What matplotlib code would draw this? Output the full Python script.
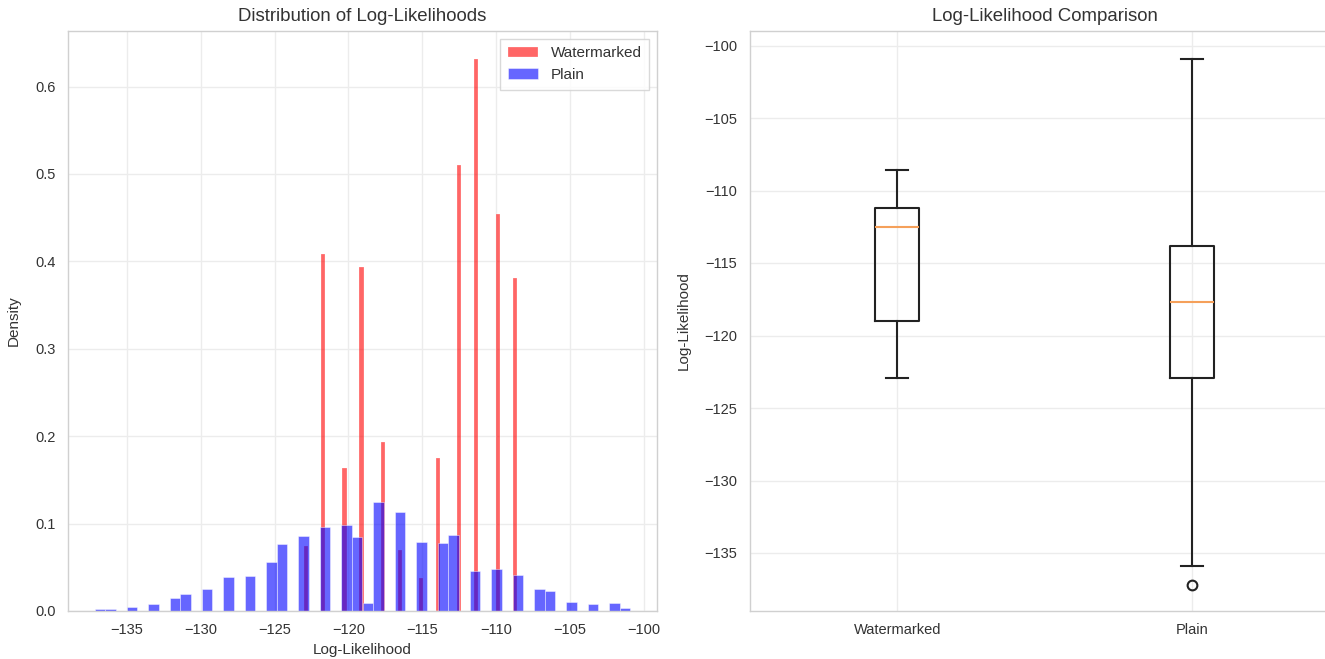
import numpy as np
import matplotlib
matplotlib.use("Agg")
import matplotlib.pyplot as plt

plt.rcParams['font.family'] = ['Liberation Sans', 'DejaVu Sans']

# histogram of plain log-likelihoods (density, 50 bins)
plain_range = (-137.2, -100.9)
plain_density = [
    0.0028, 0.0028, 0.0, 0.0050, 0.0, 0.0077, 0.0, 0.0145, 0.0195, 0.0,
    0.0256, 0.0, 0.0393, 0.0, 0.0405, 0.0, 0.0558, 0.0765, 0.0, 0.0857,
    0.0, 0.0956, 0.0, 0.0986, 0.0845, 0.0088, 0.125, 0.0, 0.113, 0.0,
    0.0788, 0.0, 0.0776, 0.0875, 0.0, 0.0462, 0.0, 0.0478, 0.0, 0.0409,
    0.0, 0.0249, 0.0233, 0.0, 0.0103, 0.0, 0.0077, 0.0, 0.0088, 0.0034,
]

# histogram of watermarked log-likelihoods (density, 50 bins)
wm_range = (-123.0, -108.6)
wm_density = [
    0.074, 0.0, 0.0, 0.0, 0.408, 0.0, 0.0, 0.0, 0.0, 0.164,
    0.0, 0.0, 0.0, 0.394, 0.0, 0.0, 0.0, 0.0, 0.193, 0.0,
    0.0, 0.0, 0.070, 0.0, 0.0, 0.0, 0.0, 0.038, 0.0, 0.0,
    0.0, 0.175, 0.0, 0.0, 0.0, 0.0, 0.510, 0.0, 0.0, 0.0,
    0.632, 0.0, 0.0, 0.0, 0.0, 0.454, 0.0, 0.0, 0.0, 0.381,
]

# box plot summary
box_labels = ['Watermarked', 'Plain']
box_q1 = [-119.0, -122.9]
box_med = [-112.5, -117.7]
box_q3 = [-111.2, -113.8]
box_whislo = [-122.9, -135.9]
box_whishi = [-108.6, -100.9]
box_fliers = [[], [-137.2]]

text_col = '#333333'
grid_col = '#ececec'
spine_col = '#d0d0d0'

W, H = 1325, 659
fig = plt.figure(figsize=(W / 100, H / 100), dpi=100)
ax1 = fig.add_axes([68 / W, 48 / H, 589 / W, 580 / H])
ax2 = fig.add_axes([750 / W, 48 / H, 589 / W, 580 / H])

# left: histograms
wm_edges = np.linspace(wm_range[0], wm_range[1], len(wm_density) + 1)
pl_edges = np.linspace(plain_range[0], plain_range[1], len(plain_density) + 1)
ax1.bar(wm_edges[:-1], wm_density, width=np.diff(wm_edges), align='edge',
        color='red', alpha=0.6, edgecolor='white', linewidth=0.3, label='Watermarked')
ax1.bar(pl_edges[:-1], plain_density, width=np.diff(pl_edges), align='edge',
        color='blue', alpha=0.6, edgecolor='white', linewidth=0.5, label='Plain')
ax1.set_xlim(-139.0, -99.1)
ax1.set_ylim(0, 0.6636)
ax1.set_xticks([-135, -130, -125, -120, -115, -110, -105, -100])
ax1.set_title('Distribution of Log-Likelihoods', fontsize=13.4, color=text_col, pad=7)
ax1.set_xlabel('Log-Likelihood', fontsize=11, color=text_col, labelpad=4)
ax1.set_ylabel('Density', fontsize=11, color=text_col, labelpad=10)
leg = ax1.legend(loc='upper right', fontsize=11, frameon=True, fancybox=False,
                 handlelength=2.0, borderpad=0.5, labelspacing=0.5)
leg.get_frame().set_edgecolor(spine_col)
for t in leg.get_texts():
    t.set_color(text_col)

# right: box plot
stats = []
for i in range(len(box_labels)):
    stats.append({'label': box_labels[i], 'q1': box_q1[i], 'med': box_med[i],
                  'q3': box_q3[i], 'whislo': box_whislo[i], 'whishi': box_whishi[i],
                  'fliers': box_fliers[i]})
ax2.bxp(stats, positions=[1, 2], widths=0.15,
        boxprops=dict(color='#222222', linewidth=1.5),
        whiskerprops=dict(color='#222222', linewidth=1.5),
        capprops=dict(color='#222222', linewidth=1.5),
        medianprops=dict(color='#f5a05a', linewidth=1.5),
        flierprops=dict(marker='o', markerfacecolor='none', markeredgecolor='#222222',
                        markersize=7, markeredgewidth=1.5))
ax2.set_xlim(0.5, 2.5)
ax2.set_ylim(-139.0, -99.0)
ax2.set_yticks([-100, -105, -110, -115, -120, -125, -130, -135])
ax2.set_title('Log-Likelihood Comparison', fontsize=13.4, color=text_col, pad=7)
ax2.set_ylabel('Log-Likelihood', fontsize=11, color=text_col, labelpad=10)

for ax in (ax1, ax2):
    ax.set_facecolor('white')
    ax.grid(True, color=grid_col, linewidth=1.0)
    ax.set_axisbelow(True)
    ax.tick_params(length=0, pad=9, labelsize=10.5, labelcolor=text_col)
    for s in ax.spines.values():
        s.set_color(spine_col)
        s.set_linewidth(1.0)

fig.savefig('out.png', dpi=100, facecolor='white')
